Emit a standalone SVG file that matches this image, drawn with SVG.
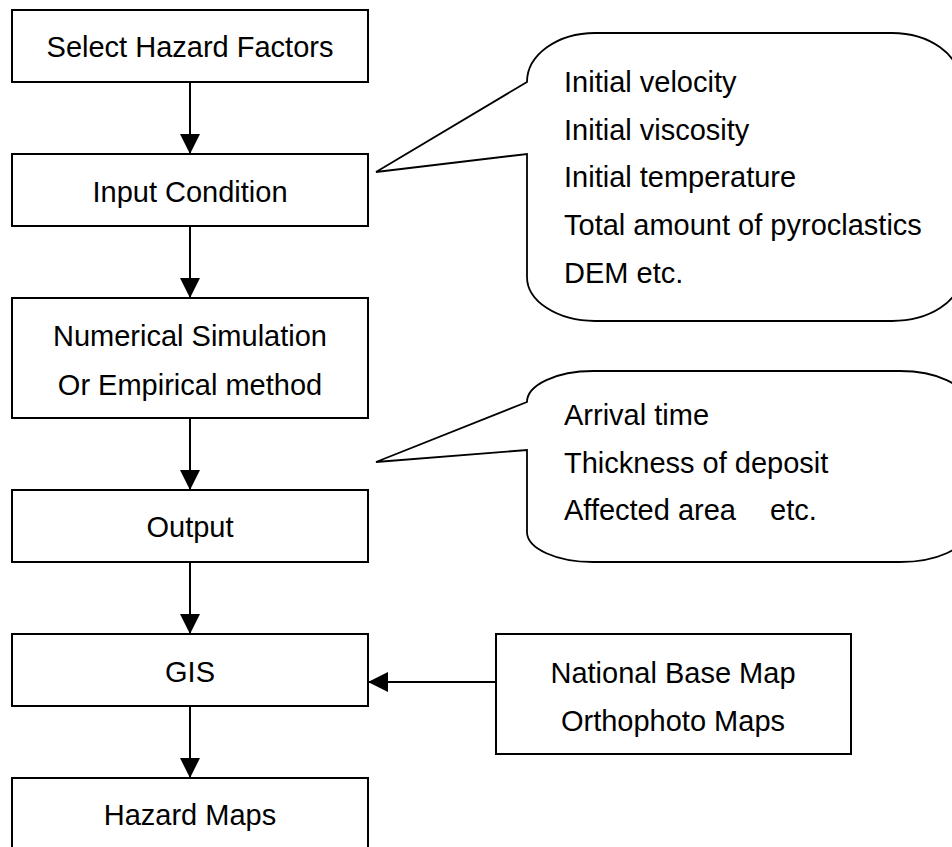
<svg xmlns="http://www.w3.org/2000/svg" width="952" height="847" viewBox="0 0 952 847">
  <style>
    .box { fill: #ffffff; stroke: #000000; stroke-width: 2; }
    .callout { fill: #ffffff; stroke: #000000; stroke-width: 1.8; stroke-linejoin: miter; }
    .edge { stroke: #000000; stroke-width: 2; fill: none; }
    .lbl { font-family: "Liberation Sans", Arial, sans-serif; font-size: 29px; fill: #000000; }
    .mid { text-anchor: middle; }
  </style>
  <defs>
    <marker id="arrow" markerUnits="userSpaceOnUse" markerWidth="20" markerHeight="20" refX="20" refY="10" orient="auto">
      <path d="M0,0 L20,10 L0,20 Z" fill="#000000"/>
    </marker>
  </defs>
  <rect width="952" height="847" fill="#ffffff"/>

  <!-- flow connectors -->
  <g id="connectors">
    <line class="edge" x1="190" y1="82" x2="190" y2="154" marker-end="url(#arrow)"/>
    <line class="edge" x1="190" y1="226" x2="190" y2="298" marker-end="url(#arrow)"/>
    <line class="edge" x1="190" y1="418" x2="190" y2="490" marker-end="url(#arrow)"/>
    <line class="edge" x1="190" y1="562" x2="190" y2="634" marker-end="url(#arrow)"/>
    <line class="edge" x1="190" y1="706" x2="190" y2="778" marker-end="url(#arrow)"/>
    <line class="edge" x1="496" y1="682" x2="368" y2="682" marker-end="url(#arrow)"/>
  </g>

  <g id="select-hazard-factors">
    <rect class="box" x="12" y="10" width="356" height="72"/>
    <text class="lbl mid" x="190" y="57">Select Hazard Factors</text>
  </g>

  <g id="input-condition">
    <rect class="box" x="12" y="154" width="356" height="72"/>
    <text class="lbl mid" x="190" y="202">Input Condition</text>
  </g>

  <g id="simulation">
    <rect class="box" x="12" y="298" width="356" height="120"/>
    <text class="lbl mid" x="190" y="346">Numerical Simulation</text>
    <text class="lbl mid" x="190" y="395">Or Empirical method</text>
  </g>

  <g id="output">
    <rect class="box" x="12" y="490" width="356" height="72"/>
    <text class="lbl mid" x="190" y="537">Output</text>
  </g>

  <g id="gis">
    <rect class="box" x="12" y="634" width="356" height="72"/>
    <text class="lbl mid" x="190" y="682">GIS</text>
  </g>

  <g id="hazard-maps">
    <rect class="box" x="12" y="778" width="356" height="72"/>
    <text class="lbl mid" x="190" y="825">Hazard Maps</text>
  </g>

  <g id="base-maps">
    <rect class="box" x="496" y="634" width="355" height="120"/>
    <text class="lbl mid" x="673" y="683">National Base Map</text>
    <text class="lbl mid" x="673" y="731">Orthophoto Maps</text>
  </g>

  <!-- callout attached to Input Condition -->
  <g id="input-callout">
    <path class="callout" d="M376,172 L527,82 A68,49 0 0 1 595,33 L892,33 A68,49 0 0 1 960,82 L960,277 A68,44 0 0 1 892,321 L595,321 A68,44 0 0 1 527,277 L527,154 Z"/>
    <text class="lbl" x="564" y="92">Initial velocity</text>
    <text class="lbl" x="564" y="140">Initial viscosity</text>
    <text class="lbl" x="564" y="187">Initial temperature</text>
    <text class="lbl" x="564" y="235">Total amount of pyroclastics</text>
    <text class="lbl" x="564" y="283">DEM etc.</text>
  </g>

  <!-- callout attached to the Output step -->
  <g id="output-callout">
    <path class="callout" d="M376,462 L527,402 A66,31 0 0 1 593,371 L900,371 A66,31 0 0 1 966,402 L966,532 A66,30 0 0 1 900,562 L593,562 A66,30 0 0 1 527,532 L527,450 Z"/>
    <text class="lbl" x="564" y="425">Arrival time</text>
    <text class="lbl" x="564" y="473">Thickness of deposit</text>
    <text class="lbl" x="564" y="520">Affected area<tspan x="770">etc.</tspan></text>
  </g>
</svg>
